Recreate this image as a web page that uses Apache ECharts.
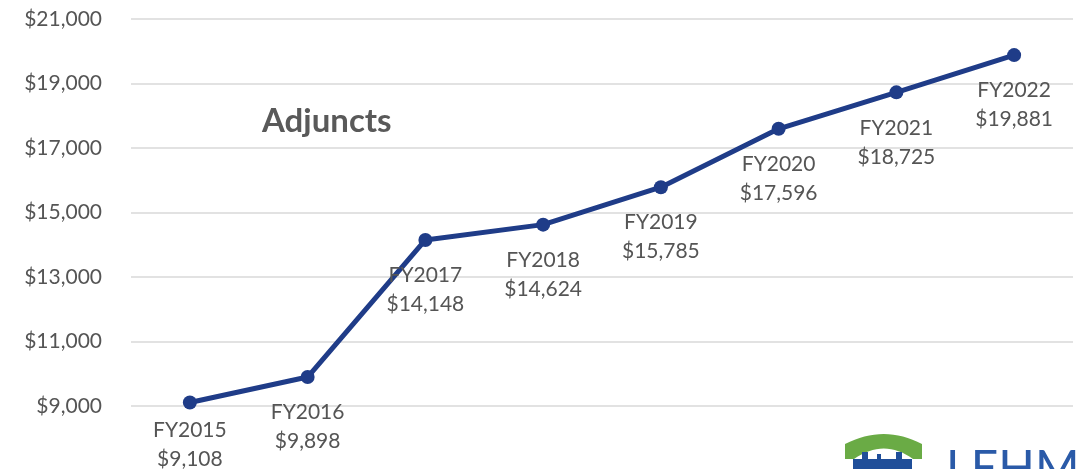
<!DOCTYPE html>
<html>
<head>
<meta charset="utf-8">
<script src="https://cdn.jsdelivr.net/npm/echarts@6/dist/echarts.min.js"></script>
<style>
  html, body { margin: 0; padding: 0; background: #fff; }
  #main { width: 1086px; height: 469px; }
</style>
</head>
<body>
<div id="main"></div>
<script>
// 年度和数值
var years = ['FY2015', 'FY2016', 'FY2017', 'FY2018', 'FY2019', 'FY2020', 'FY2021', 'FY2022'];
var values = [9108, 9898, 14148, 14624, 15785, 17596, 18725, 19881];
var yTicks = [9000, 11000, 13000, 15000, 17000, 19000, 21000];

var myChart = echarts.init(document.getElementById('main'));

function money(v) {
    return '$' + v.toLocaleString('en-US');
}

// 标志的拱形 (二次曲线取点)
function quad(x0, y0, cx, cy, x1, y1) {
    var pts = [];
    for (var i = 0; i <= 16; i++) {
        var t = i / 16;
        pts.push([
            (1 - t) * (1 - t) * x0 + 2 * (1 - t) * t * cx + t * t * x1,
            (1 - t) * (1 - t) * y0 + 2 * (1 - t) * t * cy + t * t * y1
        ]);
    }
    return pts;
}
var archPts = [[845, 459]]
    .concat(quad(845, 444, 884, 424, 922, 444))
    .concat([[922, 459]])
    .concat(quad(913, 459, 884, 438, 854, 459));

// 第一个标签靠近一些
var seriesData = values.map(function (v, i) {
    return i === 0 ? { value: v, label: { distance: 6 } } : v;
});

var option = {
    backgroundColor: '#ffffff',
    textStyle: { fontFamily: 'Lato' },
    // 标题
    title: {
        text: 'Adjuncts',
        left: 257,
        top: 100,
        textStyle: { fontFamily: 'Lato', fontSize: 33, fontWeight: 'bold', color: '#595959' }
    },
    grid: { left: 131, right: 13, top: 19, bottom: 63 },
    xAxis: {
        type: 'category',
        data: years,
        boundaryGap: true,
        axisLine: { show: false },
        axisTick: { show: false },
        axisLabel: { show: false }
    },
    yAxis: {
        type: 'value',
        min: yTicks[0],
        max: yTicks[yTicks.length - 1],
        interval: 2000,
        axisLabel: {
            margin: 29,
            fontFamily: 'Lato',
            fontSize: 21,
            color: '#555555',
            formatter: function (v) { return money(v); }
        },
        splitLine: { lineStyle: { color: '#d9d9d9', width: 1.5 } }
    },
    series: [
        {
            type: 'line',
            data: seriesData,
            color: '#1f3c88',
            symbol: 'circle',
            symbolSize: 14,
            lineStyle: { width: 5, color: '#1f3c88' },
            itemStyle: { color: '#1f3c88' },
            label: {
                show: true,
                position: 'bottom',
                distance: 14,
                fontFamily: 'Lato',
                fontSize: 21,
                lineHeight: 29,
                color: '#555555',
                formatter: function (p) { return p.name + '\n' + money(p.value); }
            }
        }
    ],
    // 右下角的标志
    graphic: [
        {
            type: 'polygon',
            shape: { points: archPts },
            style: { fill: '#6aab45' }
        },
        {
            type: 'rect',
            shape: { x: 853, y: 459, width: 59, height: 10 },
            style: { fill: '#1f4e99' }
        },
        {
            type: 'rect',
            shape: { x: 862, y: 452, width: 6, height: 8 },
            style: { fill: '#1f4e99' }
        },
        {
            type: 'rect',
            shape: { x: 877, y: 454, width: 4, height: 6 },
            style: { fill: '#1f4e99' }
        },
        {
            type: 'rect',
            shape: { x: 896, y: 452, width: 6, height: 8 },
            style: { fill: '#1f4e99' }
        },
        {
            type: 'text',
            left: 946,
            top: 446,
            style: { text: 'LEHM', fontFamily: 'Lato', fontSize: 48, fill: '#2a5aa8' }
        }
    ]
};

myChart.setOption(option);
</script>
</body>
</html>
